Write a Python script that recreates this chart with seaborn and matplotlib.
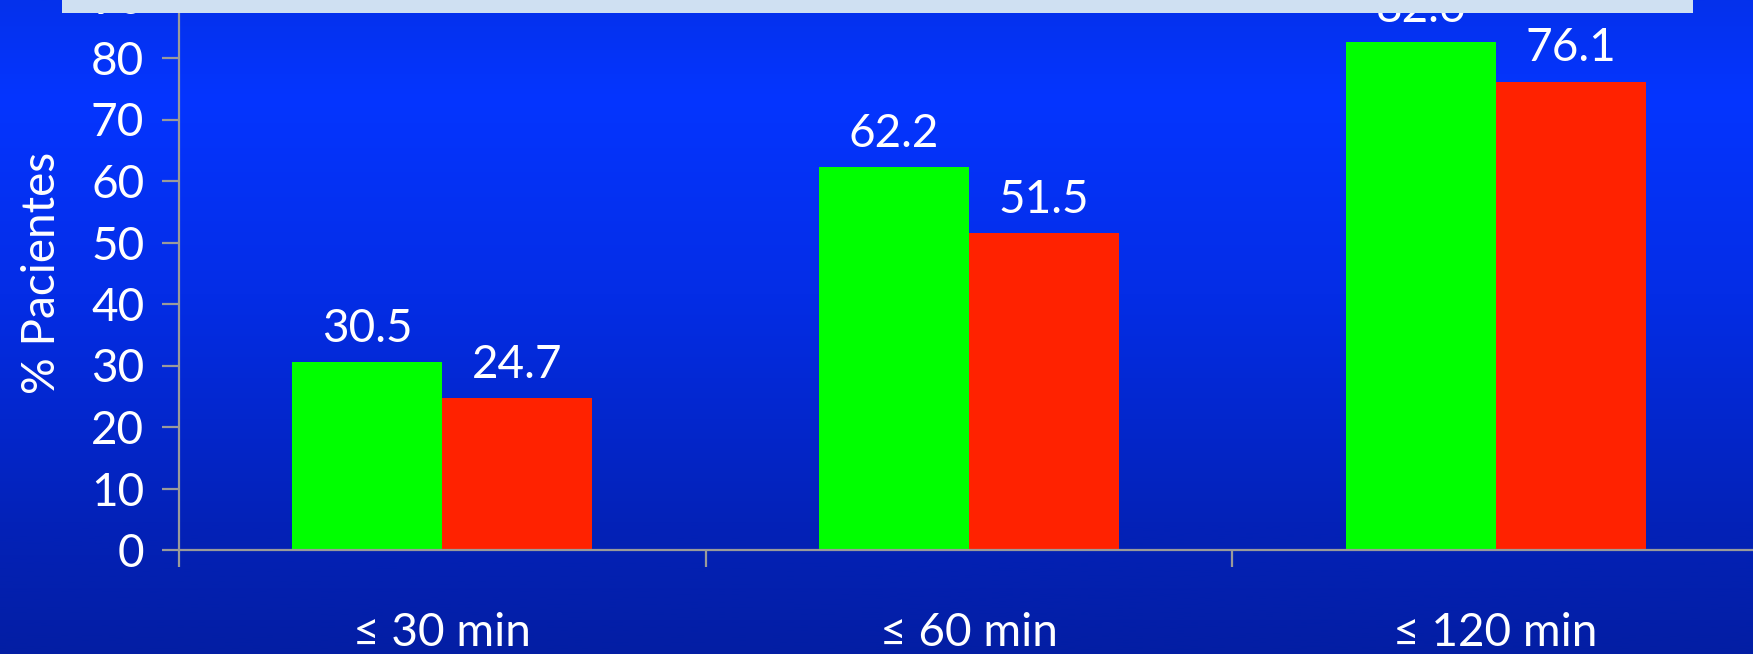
import numpy as np
import pandas as pd
import matplotlib
matplotlib.use("Agg")
import matplotlib.pyplot as plt
from matplotlib.patches import Rectangle
from matplotlib.colors import LinearSegmentedColormap
import seaborn as sns

# Data
categories = ["≤ 30 min", "≤ 60 min", "≤ 120 min"]
groups = ["Grupo A", "Grupo B"]
values_a = [30.5, 62.2, 82.6]
values_b = [24.7, 51.5, 76.1]
y_ticks = [0, 10, 20, 30, 40, 50, 60, 70, 80, 90]

df = pd.DataFrame({
    "cat": categories * 2,
    "grp": [groups[0]] * 3 + [groups[1]] * 3,
    "val": values_a + values_b,
})

sns.set_theme(style="white")
plt.rcParams["font.family"] = ["Lato", "DejaVu Sans"]

FS = 33
W, H, DPI = 1753, 654, 100
fig = plt.figure(figsize=(W / DPI, H / DPI), dpi=DPI)

# Vertical blue gradient background
bg = fig.add_axes([0, 0, 1, 1], zorder=-10)
stops = [(0.0, "#0431EC"), (0.15, "#0535FF"), (0.45, "#042DE6"),
         (0.8, "#0322B8"), (1.0, "#031EA4")]
cmap = LinearSegmentedColormap.from_list("bgblue", stops)
grad = np.linspace(0, 1, 256).reshape(-1, 1)
bg.imshow(grad, aspect="auto", cmap=cmap, extent=[0, 1, 0, 1], origin="upper")
bg.set_axis_off()

# Main plot area
left = 179 / W
bottom = (H - 550) / H
width = (1759 - 179) / W
top = (H + 3.5) / H
ax = fig.add_axes([left, bottom, width, top - bottom])
ax.patch.set_alpha(0)

sns.barplot(data=df, x="cat", y="val", hue="grp", order=categories,
            hue_order=groups, palette=["#00FF00", "#FF2200"],
            width=0.57, gap=0, ax=ax, legend=False, saturation=1,
            edgecolor="none", linewidth=0)

for cont in ax.containers:
    ax.bar_label(cont, labels=[f"{v:.1f}" for v in cont.datavalues],
                 padding=9, color="white", fontsize=FS)

ax.set_ylim(0, 90)
ax.set_xlim(-0.5, 2.5)
ax.set_yticks(y_ticks)
ax.set_yticklabels([str(t) for t in y_ticks])
ax.set_xticks(range(len(categories)))
ax.set_xticklabels(categories)
ax.set_xticks([-0.5, 0.5, 1.5, 2.5], minor=True)

ax.tick_params(axis="y", which="major", direction="out", length=12,
               width=1.6, color="#9A9A9A", labelcolor="white",
               labelsize=FS, pad=13, left=True)
ax.tick_params(axis="x", which="major", length=0, labelcolor="white",
               labelsize=FS, pad=45)
ax.tick_params(axis="x", which="minor", direction="out", length=12,
               width=1.6, color="#9A9A9A", bottom=True)

for side in ["top", "right"]:
    ax.spines[side].set_visible(False)
for side in ["left", "bottom"]:
    ax.spines[side].set_color("#9A9A9A")
    ax.spines[side].set_linewidth(1.6)

ax.set_xlabel("")
ax.set_ylabel("% Pacientes", color="white", fontsize=FS, labelpad=20)

# Light title band along the top edge
fig.patches.append(Rectangle((62 / W, (H - 13) / H), (1693 - 62) / W, 13 / H + 0.01,
                             transform=fig.transFigure, facecolor="#CFE0F2",
                             edgecolor="none", zorder=10))

fig.savefig("out.png", dpi=DPI)
